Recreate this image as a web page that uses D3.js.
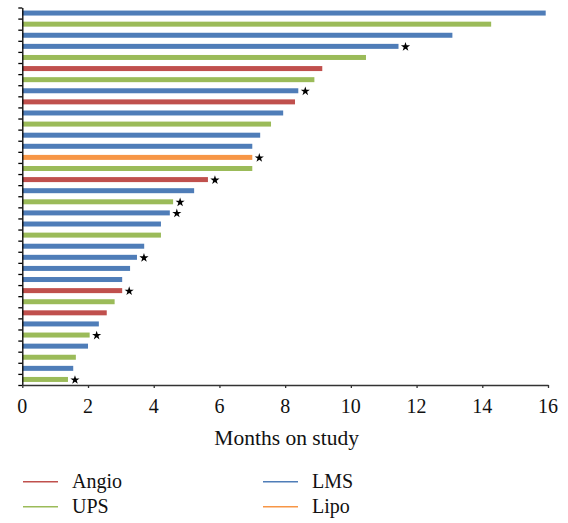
<!DOCTYPE html>
<html>
<head>
<meta charset="utf-8">
<script src="https://cdn.jsdelivr.net/npm/d3@7"></script>
<style>
  body { margin: 0; background: #fff; }
  svg { display: block; }
</style>
</head>
<body>
<div id="chart"></div>
<script>
// months on study per patient, sorted longest first
const months = [15.93, 14.27, 13.09, 11.45, 10.46, 9.13, 8.89, 8.40, 8.30, 7.94,
                7.57, 7.24, 7.00, 7.00, 7.00, 5.65, 5.23, 4.59, 4.49, 4.22,
                4.22, 3.71, 3.49, 3.28, 3.04, 3.04, 2.81, 2.57, 2.33, 2.05,
                2.00, 1.63, 1.55, 1.39];
const histology = ['LMS', 'UPS', 'LMS', 'LMS', 'UPS', 'Angio', 'UPS', 'LMS', 'Angio', 'LMS',
                   'UPS', 'LMS', 'LMS', 'Lipo', 'UPS', 'Angio', 'LMS', 'UPS', 'LMS', 'LMS',
                   'UPS', 'LMS', 'LMS', 'LMS', 'LMS', 'Angio', 'UPS', 'Angio', 'LMS', 'UPS',
                   'LMS', 'UPS', 'LMS', 'UPS'];
// star = still on study
const ongoing = [0, 0, 0, 1, 0, 0, 0, 1, 0, 0,
                 0, 0, 0, 1, 0, 1, 0, 1, 1, 0,
                 0, 0, 1, 0, 0, 1, 0, 0, 0, 1,
                 0, 0, 0, 1];
const xTicks = [0, 2, 4, 6, 8, 10, 12, 14, 16];
const legendItems = ['Angio', 'UPS', 'LMS', 'Lipo'];

const colors = {
    Angio: '#c0504d',
    UPS: '#9bbb59',
    LMS: '#4f7db8',
    Lipo: '#f79646'
};

const serif = '"Liberation Serif", "Times New Roman", serif';
const width = 568, height = 523;
const margin = { top: 7.5, left: 22.3 };
const plotRight = 548;
const plotBottom = 385;

const svg = d3.select('#chart').append('svg')
    .attr('width', width)
    .attr('height', height);

const patients = d3.range(months.length);

const x = d3.scaleLinear().domain([0, 16]).range([margin.left, plotRight]);
const y = d3.scaleBand().domain(patients).range([margin.top, plotBottom]).paddingInner(0.55).paddingOuter(0.275);
const yEdge = d3.scaleLinear().domain([0, months.length]).range([margin.top, plotBottom]);

// bars
svg.append('g').selectAll('rect')
    .data(patients)
    .enter().append('rect')
    .attr('x', x(0))
    .attr('y', i => y(i))
    .attr('width', i => x(months[i]) - x(0))
    .attr('height', y.bandwidth())
    .attr('fill', i => colors[histology[i]]);

// stars for ongoing patients
svg.append('g').selectAll('path')
    .data(patients.filter(i => ongoing[i]))
    .enter().append('path')
    .attr('d', d3.symbol().type(d3.symbolStar).size(26))
    .attr('transform', i => `translate(${x(months[i]) + 7},${y(i) + y.bandwidth() / 2 + 0.5})`)
    .attr('fill', '#000');

// y axis: plain ticks at category edges
const yAxis = svg.append('g')
    .attr('transform', `translate(${margin.left},0)`)
    .call(d3.axisLeft(yEdge).tickValues(d3.range(months.length + 1)).tickFormat('').tickSize(4).tickSizeOuter(0));
yAxis.select('.domain').attr('stroke', '#000').attr('stroke-width', 1.3);
yAxis.selectAll('.tick line').attr('stroke', '#000').attr('stroke-width', 1.3);

// x axis (labels drawn separately in serif)
const xAxis = svg.append('g')
    .attr('transform', `translate(0,${plotBottom})`)
    .call(d3.axisBottom(x).tickValues(xTicks).tickFormat('').tickSize(3).tickSizeOuter(0));
xAxis.select('.domain').attr('stroke', '#333').attr('stroke-width', 1.3);
xAxis.selectAll('.tick line').attr('stroke', '#333').attr('stroke-width', 1.3);

svg.append('g').selectAll('text')
    .data(xTicks)
    .enter().append('text')
    .attr('x', d => x(d))
    .attr('y', plotBottom + 28)
    .attr('text-anchor', 'middle')
    .attr('font-family', serif)
    .attr('font-size', 20)
    .attr('fill', '#111')
    .text(d => d);

svg.append('text')
    .attr('x', (margin.left + plotRight) / 2 + 1.5)
    .attr('y', 445)
    .attr('text-anchor', 'middle')
    .attr('font-family', serif)
    .attr('font-size', 21.5)
    .attr('fill', '#111')
    .text('Months on study');

// legend, two columns
const legend = svg.append('g').selectAll('g')
    .data(legendItems)
    .enter().append('g')
    .attr('transform', (d, i) => `translate(${i < 2 ? 23 : 263},${i % 2 === 0 ? 481.7 : 506.7})`);

legend.append('line')
    .attr('x1', 0).attr('x2', 35)
    .attr('stroke', d => colors[d])
    .attr('stroke-width', 1.5);

legend.append('text')
    .attr('x', 49)
    .attr('y', 6)
    .attr('font-family', serif)
    .attr('font-size', 20)
    .attr('fill', '#111')
    .text(d => d);
</script>
</body>
</html>
